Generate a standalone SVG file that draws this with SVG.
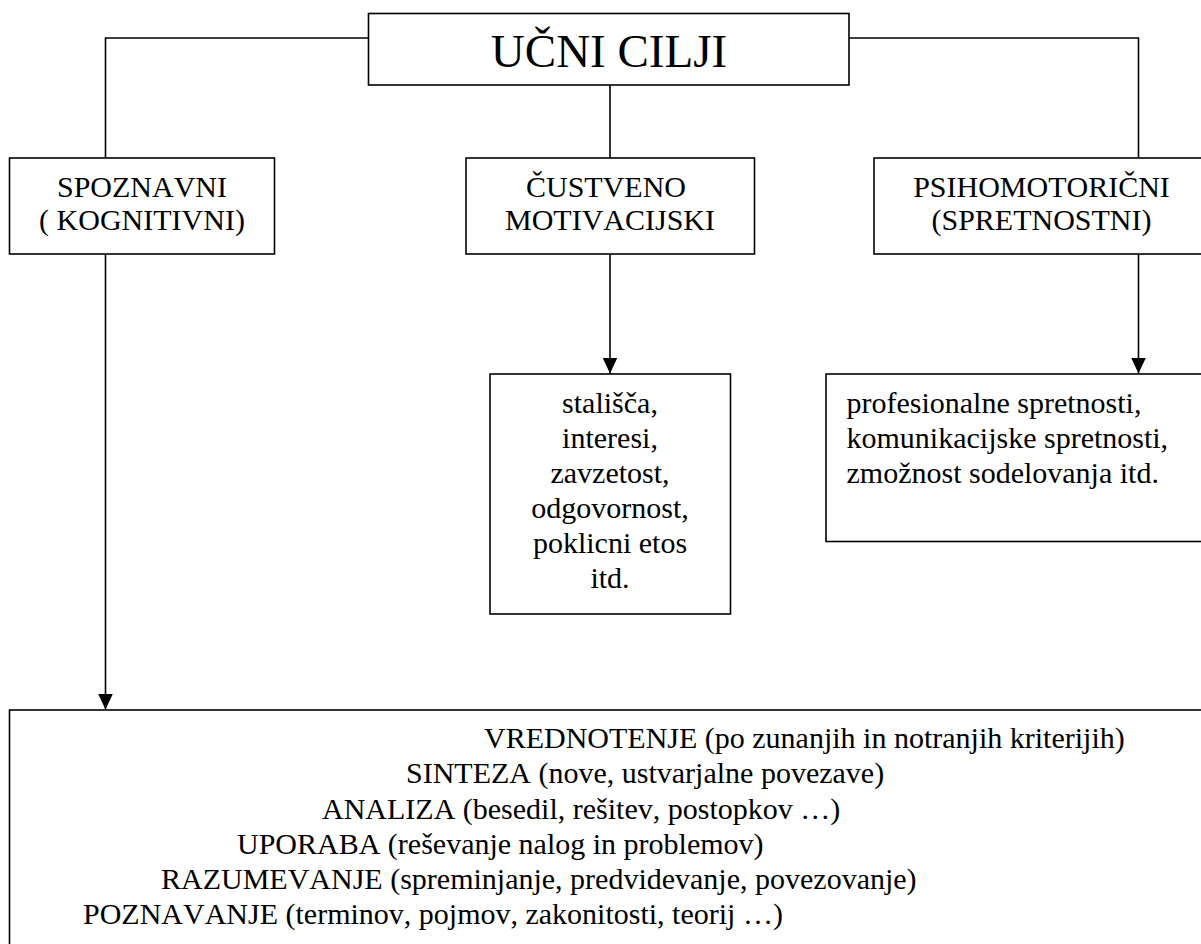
<svg xmlns="http://www.w3.org/2000/svg" width="1201" height="944" viewBox="0 0 1201 944">
<style>
.box{fill:#fff;stroke:#000;stroke-width:1.6}
.ln{fill:none;stroke:#000;stroke-width:1.6}
text{font-family:"Liberation Serif","Times New Roman",serif;font-size:30px;fill:#000;font-kerning:none}
.c{text-anchor:middle}
.title{font-size:47px}
</style>
<defs>
<marker id="ah" markerWidth="16" markerHeight="15" refX="16" refY="7.5" orient="auto" markerUnits="userSpaceOnUse" viewBox="0 0 16 15">
<path d="M0,0 L16,7.5 L0,15 Z" fill="#000"/>
</marker>
</defs>
<rect width="1201" height="944" fill="#fff"/>
<g id="connectors">
<polyline class="ln" points="368.5,38 105.5,38 105.5,158"/>
<polyline class="ln" points="849,38 1138.5,38 1138.5,158"/>
<line class="ln" x1="610" y1="85" x2="610" y2="158"/>
<line class="ln" x1="105.5" y1="254" x2="105.5" y2="709.5" marker-end="url(#ah)"/>
<line class="ln" x1="610" y1="254" x2="610" y2="373.5" marker-end="url(#ah)"/>
<line class="ln" x1="1138.5" y1="254" x2="1138.5" y2="373.5" marker-end="url(#ah)"/>
</g>
<g id="ucni-cilji">
<rect class="box" x="368.5" y="13.5" width="480.5" height="71.5"/>
<text class="c title" x="609" y="67">UČNI CILJI</text>
</g>
<g id="spoznavni">
<rect class="box" x="9.5" y="158" width="265" height="96"/>
<text class="c" x="142" y="197">SPOZNAVNI</text>
<text class="c" x="142" y="230">( KOGNITIVNI)</text>
</g>
<g id="custveno">
<rect class="box" x="466" y="158" width="288.5" height="96"/>
<text class="c" x="606" y="197">ČUSTVENO</text>
<text class="c" x="610" y="230">MOTIVACIJSKI</text>
</g>
<g id="psihomotoricni">
<rect class="box" x="874" y="158" width="340" height="96"/>
<text class="c" x="1041.5" y="197">PSIHOMOTORIČNI</text>
<text class="c" x="1041.5" y="230">(SPRETNOSTNI)</text>
</g>
<g id="stalisca">
<rect class="box" x="490" y="374" width="240.5" height="240"/>
<text class="c" x="610" y="413">stališča,</text>
<text class="c" x="610" y="448">interesi,</text>
<text class="c" x="610" y="483">zavzetost,</text>
<text class="c" x="610" y="518">odgovornost,</text>
<text class="c" x="610" y="553">poklicni etos</text>
<text class="c" x="610" y="588">itd.</text>
</g>
<g id="spretnosti">
<rect class="box" x="826" y="374" width="390" height="167.5"/>
<text x="846.5" y="413">profesionalne spretnosti,</text>
<text x="846.5" y="448">komunikacijske spretnosti,</text>
<text x="846.5" y="483">zmožnost sodelovanja itd.</text>
</g>
<g id="kognitivni-ravni">
<rect class="box" x="9.5" y="710" width="1210" height="250"/>
<text x="484" y="748">VREDNOTENJE (po zunanjih in notranjih kriterijih)</text>
<text x="406" y="783">SINTEZA (nove, ustvarjalne povezave)</text>
<text x="322" y="819">ANALIZA (besedil, rešitev, postopkov …)</text>
<text x="237" y="854">UPORABA (reševanje nalog in problemov)</text>
<text x="161" y="889">RAZUMEVANJE (spreminjanje, predvidevanje, povezovanje)</text>
<text x="83" y="924">POZNAVANJE (terminov, pojmov, zakonitosti, teorij …)</text>
</g>
</svg>
